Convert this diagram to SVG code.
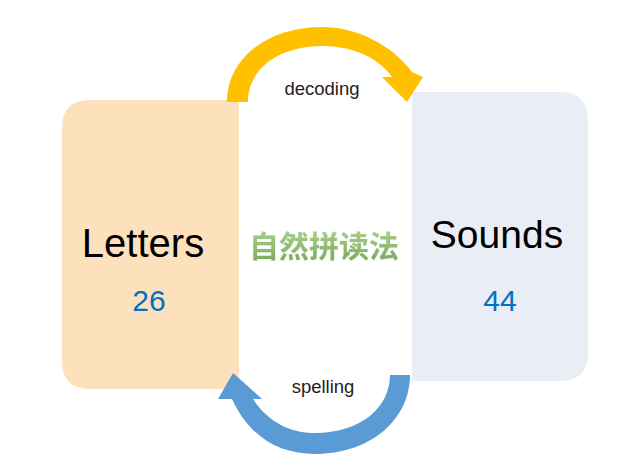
<svg xmlns="http://www.w3.org/2000/svg" width="636" height="470" viewBox="0 0 636 470">
  <defs>
    <linearGradient id="gr" x1="0" y1="0" x2="0" y2="1">
      <stop offset="0" stop-color="#b3d69a"/>
      <stop offset="1" stop-color="#76a653"/>
    </linearGradient>
    <filter id="glow" x="-10%" y="-20%" width="120%" height="140%">
      <feGaussianBlur in="SourceAlpha" stdDeviation="1.2" result="b"/>
      <feFlood flood-color="#e8f0dc"/>
      <feComposite in2="b" operator="in" result="g"/>
      <feMerge><feMergeNode in="g"/><feMergeNode in="SourceGraphic"/></feMerge>
    </filter>
  </defs>
  <style>
    .lbl { font-family: "Liberation Sans", Arial, sans-serif; fill: #000; text-anchor: middle; }
    .num { font-family: "Liberation Sans", Arial, sans-serif; fill: #0070c0; text-anchor: middle; font-size: 30px; }
    .edge { font-family: "Liberation Sans", Arial, sans-serif; fill: #222; text-anchor: middle; font-size: 18.5px; }
  </style>
  <rect width="636" height="470" fill="#ffffff"/>

  <g id="letters">
    <path d="M90,100 L239,100 L239,389 L90,389 Q62,389 62,361 L62,128 Q62,100 90,100 Z" fill="#fde1bd"/>
    <text class="lbl" x="143" y="257" font-size="40">Letters</text>
    <text class="num" x="149" y="311">26</text>
  </g>

  <g id="sounds">
    <path d="M412,92 L560,92 Q588,92 588,120 L588,353 Q588,381 560,381 L412,381 Z" fill="#e9edf5"/>
    <text class="lbl" x="497" y="248" font-size="39">Sounds</text>
    <text class="num" x="500" y="311">44</text>
  </g>

  <g id="center">
    <text x="324" y="257" font-family="'Noto Sans CJK SC', sans-serif" font-weight="bold" font-size="30" text-anchor="middle" fill="url(#gr)" filter="url(#glow)">自然拼读法</text>
  </g>

  <g id="connectors">
    <g id="decoding">
      <path d="M227,102 C227,58 268,27 322,27 C357,27 392,45 412,72 L423,77 L407,102 L382,77 L392,77 C378,57 352,46 322,46 C280,46 248,68 248,102 Z" fill="#ffc000"/>
      <text class="edge" x="322" y="95">decoding</text>
    </g>
    <g id="spelling">
      <path d="M410,375 C410,420 370,454 315,454 C280,454 250,438 232,399 L218,399 L233,373 L262,399 L253,399 C268,422 290,433 315,433 C360,433 390,408 390,375 Z" fill="#5b9bd5"/>
      <text class="edge" x="323" y="393">spelling</text>
    </g>
  </g>
</svg>
